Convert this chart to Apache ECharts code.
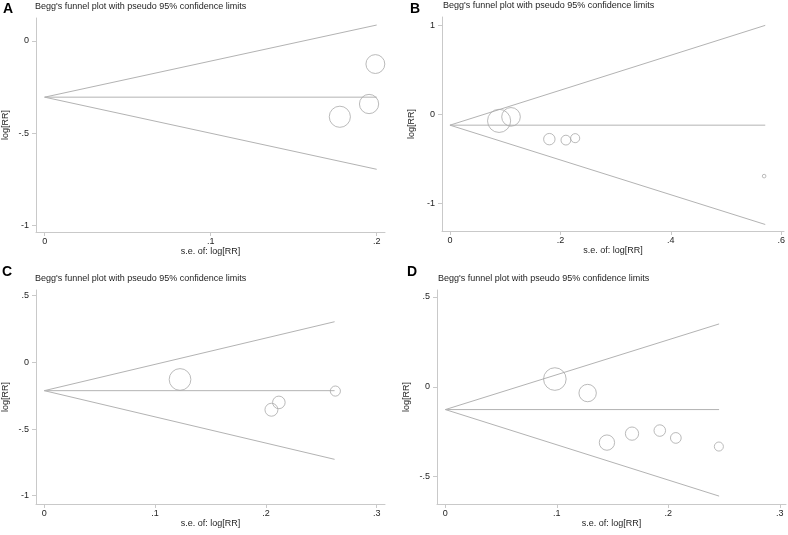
<!DOCTYPE html>
<html><head><meta charset="utf-8">
<script src="https://cdn.jsdelivr.net/npm/echarts@6/dist/echarts.min.js"></script>
<style>html,body{margin:0;padding:0;background:#fff}#c{width:788px;height:535px}</style>
</head><body><div id="c"></div>
<script>
// ---- Data ----
const panelLetters = ['A', 'B', 'C', 'D'];
const plotTitle = "Begg's funnel plot with pseudo 95% confidence limits";
const xName = 's.e. of: log[RR]';
const yName = 'log[RR]';

// Panel A
const seA = [0.1992, 0.1954, 0.1778];
const logrrA = [-0.126, -0.342, -0.411];
const funnelA = { seMax: 0.2, pooled: -0.305, upper: 0.085, lower: -0.695 };
const xTicksA = [0, 0.1, 0.2];
const yTicksA = [-1, -0.5, 0];

// Panel B
const seB = [0.089, 0.1106, 0.180, 0.210, 0.2268, 0.569];
const logrrB = [-0.072, -0.027, -0.277, -0.288, -0.266, -0.692];
const funnelB = { seMax: 0.571, pooled: -0.12, upper: 1.0, lower: -1.235 };
const xTicksB = [0, 0.2, 0.4, 0.6];
const yTicksB = [-1, 0, 1];

// Panel C
const seC = [0.1225, 0.2117, 0.205, 0.2627];
const logrrC = [-0.128, -0.300, -0.355, -0.215];
const funnelC = { seMax: 0.262, pooled: -0.212, upper: 0.305, lower: -0.727 };
const xTicksC = [0, 0.1, 0.2, 0.3];
const yTicksC = [-1, -0.5, 0, 0.5];

// Panel D
const seD = [0.0982, 0.1276, 0.1449, 0.1674, 0.1923, 0.2067, 0.2453];
const logrrD = [0.043, -0.035, -0.311, -0.261, -0.244, -0.285, -0.333];
const funnelD = { seMax: 0.2455, pooled: -0.127, upper: 0.35, lower: -0.609 };
const xTicksD = [0, 0.1, 0.2, 0.3];
const yTicksD = [-0.5, 0, 0.5];

// ---- Layout / style ----
const FONT = '"Liberation Sans", Arial, sans-serif';
const AXIS_COLOR = '#c9c9c9';
const LINE_COLOR = '#b3b3b3';
const CIRCLE_COLOR = '#a9a9a9';
const TEXT_COLOR = '#1e1e1e';

const panels = [
  { se: seA, y: logrrA, f: funnelA, xt: xTicksA, yt: yTicksA, k: 1.88,
    grid: { left: 34, top: 18, width: 351, height: 214 }, xr: [-0.0052, 0.205], yr: [-1.034, 0.123] },
  { se: seB, y: logrrB, f: funnelB, xt: xTicksB, yt: yTicksB, k: 1.03,
    grid: { left: 442, top: 17, width: 345, height: 214 }, xr: [-0.0144, 0.605], yr: [-1.308, 1.094] },
  { se: seC, y: logrrC, f: funnelC, xt: xTicksC, yt: yTicksC, k: 1.33,
    grid: { left: 34, top: 290, width: 351, height: 214 }, xr: [-0.0075, 0.3075], yr: [-1.062, 0.543] },
  { se: seD, y: logrrD, f: funnelD, xt: xTicksD, yt: yTicksD, k: 1.11,
    grid: { left: 437, top: 290, width: 349, height: 214 }, xr: [-0.0075, 0.3055], yr: [-0.653, 0.539] }
];

function stataFmt(v) {
  if (v === 0) return '0';
  let s = String(Math.round(v * 1000) / 1000);
  return s.replace(/^(-?)0\./, '$1.');
}

const grids = [], xAxes = [], yAxes = [], series = [], titles = [];
const letterPos = [[3, 2], [410, 2], [2, 265], [407, 265]];

panels.forEach((p, i) => {
  grids.push(Object.assign({ containLabel: false }, p.grid));
  xAxes.push({
    type: 'value', gridIndex: i, min: p.xr[0], max: p.xr[1],
    name: xName, nameLocation: 'middle', nameGap: 13,
    nameTextStyle: { fontFamily: FONT, fontSize: 9, color: TEXT_COLOR },
    axisLine: { show: true, onZero: false, lineStyle: { color: AXIS_COLOR, width: 1 } },
    axisTick: { show: true, length: 4, customValues: p.xt, lineStyle: { color: AXIS_COLOR } },
    axisLabel: { customValues: p.xt, formatter: stataFmt, margin: 5,
      fontFamily: FONT, fontSize: 9, color: TEXT_COLOR, showMinLabel: true, showMaxLabel: true },
    splitLine: { show: false }
  });
  yAxes.push({
    type: 'value', gridIndex: i, min: p.yr[0], max: p.yr[1],
    name: yName, nameLocation: 'middle', nameGap: 26, nameRotate: 90,
    nameTextStyle: { fontFamily: FONT, fontSize: 9, color: TEXT_COLOR },
    axisLine: { show: true, onZero: false, lineStyle: { color: AXIS_COLOR, width: 1 } },
    axisTick: { show: true, length: 4, customValues: p.yt, lineStyle: { color: AXIS_COLOR } },
    axisLabel: { customValues: p.yt, formatter: stataFmt, margin: 7,
      fontFamily: FONT, fontSize: 9, color: TEXT_COLOR, showMinLabel: true, showMaxLabel: true },
    splitLine: { show: false }
  });
  // funnel limits
  series.push({
    type: 'line', xAxisIndex: i, yAxisIndex: i, silent: true, showSymbol: false, symbol: 'none',
    data: [[p.f.seMax, p.f.upper], [0, p.f.pooled], [p.f.seMax, p.f.lower]],
    lineStyle: { color: LINE_COLOR, width: 1 }, animation: false, z: 2
  });
  // pooled estimate
  series.push({
    type: 'line', xAxisIndex: i, yAxisIndex: i, silent: true, showSymbol: false, symbol: 'none',
    data: [[0, p.f.pooled], [p.f.seMax, p.f.pooled]],
    lineStyle: { color: LINE_COLOR, width: 1 }, animation: false, z: 2
  });
  // studies
  const k = p.k;
  series.push({
    type: 'scatter', xAxisIndex: i, yAxisIndex: i,
    data: p.se.map((s, j) => [s, p.y[j]]),
    symbol: 'circle',
    symbolSize: d => 2 * k / d[0],
    itemStyle: { color: 'rgba(255,255,255,0)', borderColor: CIRCLE_COLOR, borderWidth: 1 },
    animation: false, z: 3
  });
  titles.push({
    text: panelLetters[i], left: letterPos[i][0], top: letterPos[i][1], padding: 0,
    textStyle: { fontFamily: FONT, fontSize: 14, fontWeight: 'bold', color: '#000' }
  });
  titles.push({
    text: plotTitle, left: p.grid.left + 1, top: p.grid.top - 16, padding: 0,
    textStyle: { fontFamily: FONT, fontSize: 9, fontWeight: 'normal', color: TEXT_COLOR }
  });
});

const chart = echarts.init(document.getElementById('c'), null, { renderer: 'canvas' });
chart.setOption({
  backgroundColor: '#fff',
  animation: false,
  title: titles,
  grid: grids,
  xAxis: xAxes,
  yAxis: yAxes,
  series: series
});
</script></body></html>
